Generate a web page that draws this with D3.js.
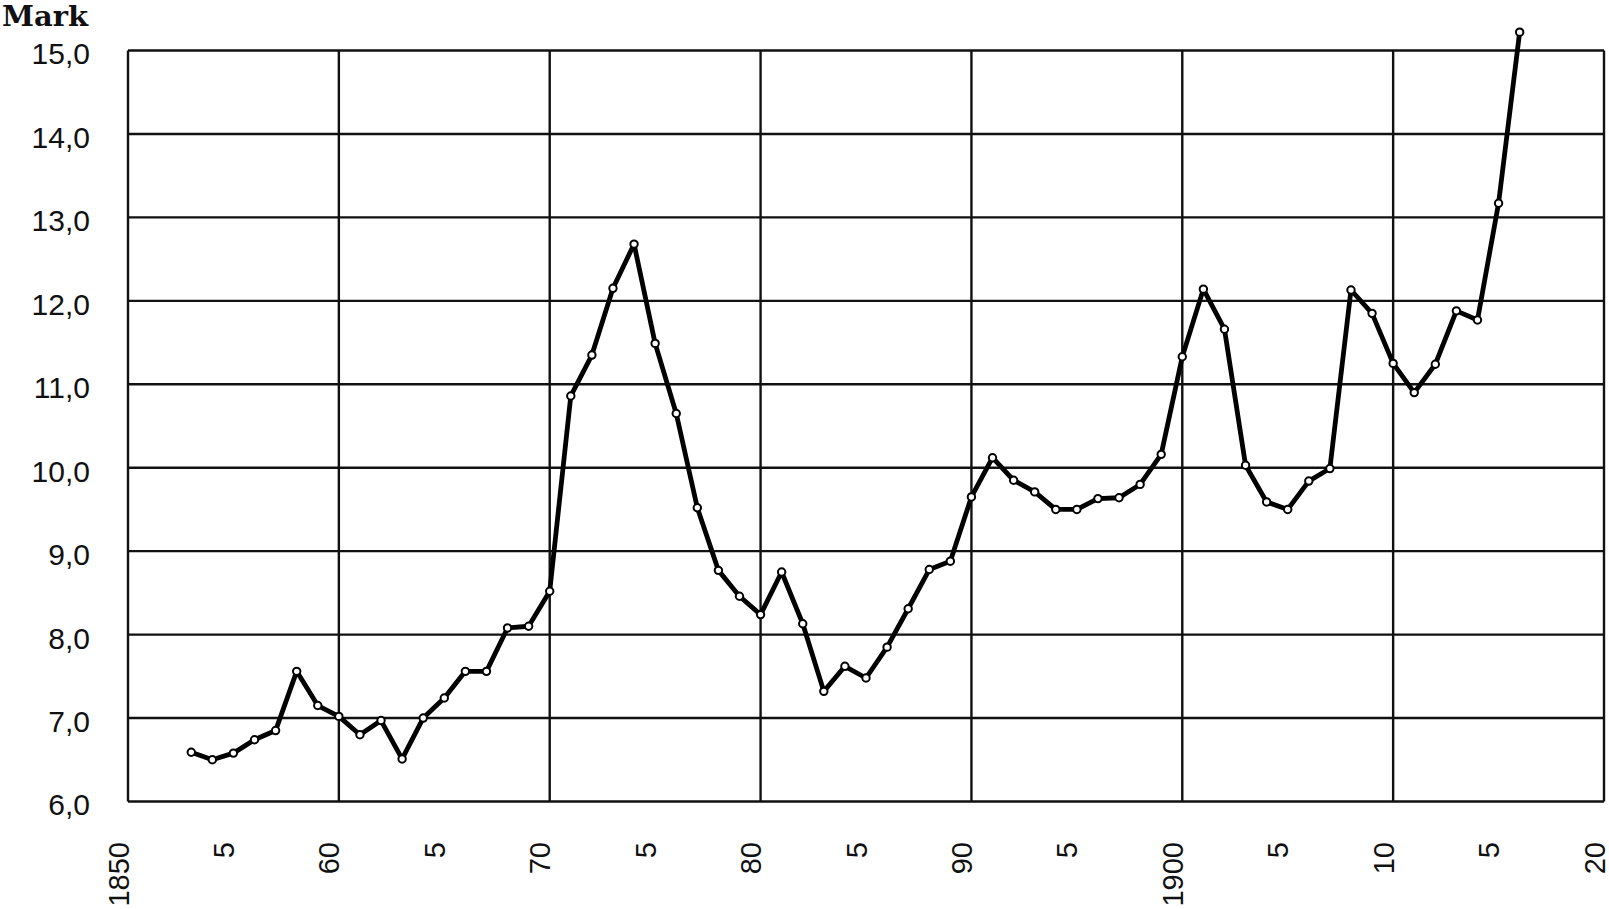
<!DOCTYPE html>
<html>
<head>
<meta charset="utf-8">
<script src="https://cdn.jsdelivr.net/npm/d3@7"></script>
<style>
  html, body { margin: 0; padding: 0; background: #fff; }
  svg { display: block; }
</style>
</head>
<body>
<svg id="chart" width="1609" height="909"></svg>
<script>
// ---- data ----
const years = [1853,1854,1855,1856,1857,1858,1859,1860,1861,1862,1863,1864,1865,1866,1867,1868,1869,
  1870,1871,1872,1873,1874,1875,1876,1877,1878,1879,1880,1881,1882,1883,1884,1885,1886,1887,1888,1889,
  1890,1891,1892,1893,1894,1895,1896,1897,1898,1899,1900,1901,1902,1903,1904,1905,1906,1907,1908,1909,
  1910,1911,1912,1913,1914,1915,1916];
const values = [6.59,6.50,6.58,6.74,6.85,7.56,7.15,7.02,6.80,6.97,6.51,7.00,7.24,7.56,7.56,8.08,8.10,
  8.52,10.86,11.35,12.15,12.68,11.49,10.65,9.52,8.77,8.46,8.24,8.75,8.13,7.32,7.62,7.48,7.85,8.31,8.78,8.88,
  9.65,10.12,9.85,9.71,9.50,9.50,9.63,9.64,9.80,10.16,11.33,12.14,11.66,10.03,9.59,9.50,9.84,9.99,12.13,11.85,
  11.25,10.90,11.24,11.88,11.77,13.17,15.22];
const xTickYears = [1850,1855,1860,1865,1870,1875,1880,1885,1890,1895,1900,1905,1910,1915,1920];
const xTickLabels = ["1850","5","60","5","70","5","80","5","90","5","1900","5","10","5","20"];
const xGridYears = [1850,1860,1870,1880,1890,1900,1910,1920];
const yTicks = [6,7,8,9,10,11,12,13,14,15];
const unitLabel = "Mark";

// ---- layout ----
const svg = d3.select("#chart");
const x = d3.scaleLinear().domain([1850, 1920]).range([128, 1604]);
const y = d3.scaleLinear().domain([6, 15]).range([801.5, 50.5]);
const font = "'Liberation Sans', Arial, sans-serif";

// grid
const grid = svg.append("g").attr("stroke", "#111").attr("stroke-width", 2.4).attr("fill", "none");
grid.selectAll("line.h").data(yTicks).join("line")
  .attr("class", "h")
  .attr("x1", x(1850)).attr("x2", x(1920))
  .attr("y1", d => y(d)).attr("y2", d => y(d));
grid.selectAll("line.v").data(xGridYears).join("line")
  .attr("class", "v")
  .attr("x1", d => x(d)).attr("x2", d => x(d))
  .attr("y1", y(15)).attr("y2", y(6));

// y axis labels
const yAxis = d3.axisLeft(y).tickValues(yTicks).tickSize(0).tickPadding(38)
  .tickFormat(d => d.toFixed(1).replace(".", ","));
const gy = svg.append("g").attr("transform", `translate(${x(1850)},0)`).call(yAxis);
gy.select(".domain").remove();
gy.selectAll("text")
  .attr("font-family", font).attr("font-size", 30).attr("fill", "#111")
  .attr("dy", "0.68em").attr("y", -7);

// x axis labels (rotated)
const xAxis = d3.axisBottom(x).tickValues(xTickYears).tickSize(0)
  .tickFormat((d, i) => xTickLabels[i]);
const gx = svg.append("g").attr("transform", "translate(0,842)").call(xAxis);
gx.select(".domain").remove();
gx.selectAll("text")
  .attr("font-family", font).attr("font-size", 29).attr("fill", "#111")
  .attr("x", 0).attr("y", 0).attr("dy", 0)
  .attr("text-anchor", "end")
  .attr("transform", "rotate(-90)");

// unit label
svg.append("text")
  .attr("x", 2).attr("y", 26)
  .attr("font-family", "'DejaVu Serif', 'Liberation Serif', serif")
  .attr("font-weight", "bold")
  .attr("font-size", 28)
  .attr("textLength", 86)
  .attr("lengthAdjust", "spacingAndGlyphs")
  .attr("fill", "#111")
  .text(unitLabel);

// data line
const pts = years.map((yr, i) => [yr, values[i]]);
const line = d3.line().x(d => x(d[0])).y(d => y(d[1]));
svg.append("path")
  .datum(pts)
  .attr("d", line)
  .attr("fill", "none")
  .attr("stroke", "#000")
  .attr("stroke-width", 4.8)
  .attr("stroke-linejoin", "round")
  .attr("stroke-linecap", "round");

svg.append("g").selectAll("circle").data(pts).join("circle")
  .attr("cx", d => x(d[0])).attr("cy", d => y(d[1]))
  .attr("r", 3.7)
  .attr("fill", "#fff")
  .attr("stroke", "#000")
  .attr("stroke-width", 2);
</script>
</body>
</html>
